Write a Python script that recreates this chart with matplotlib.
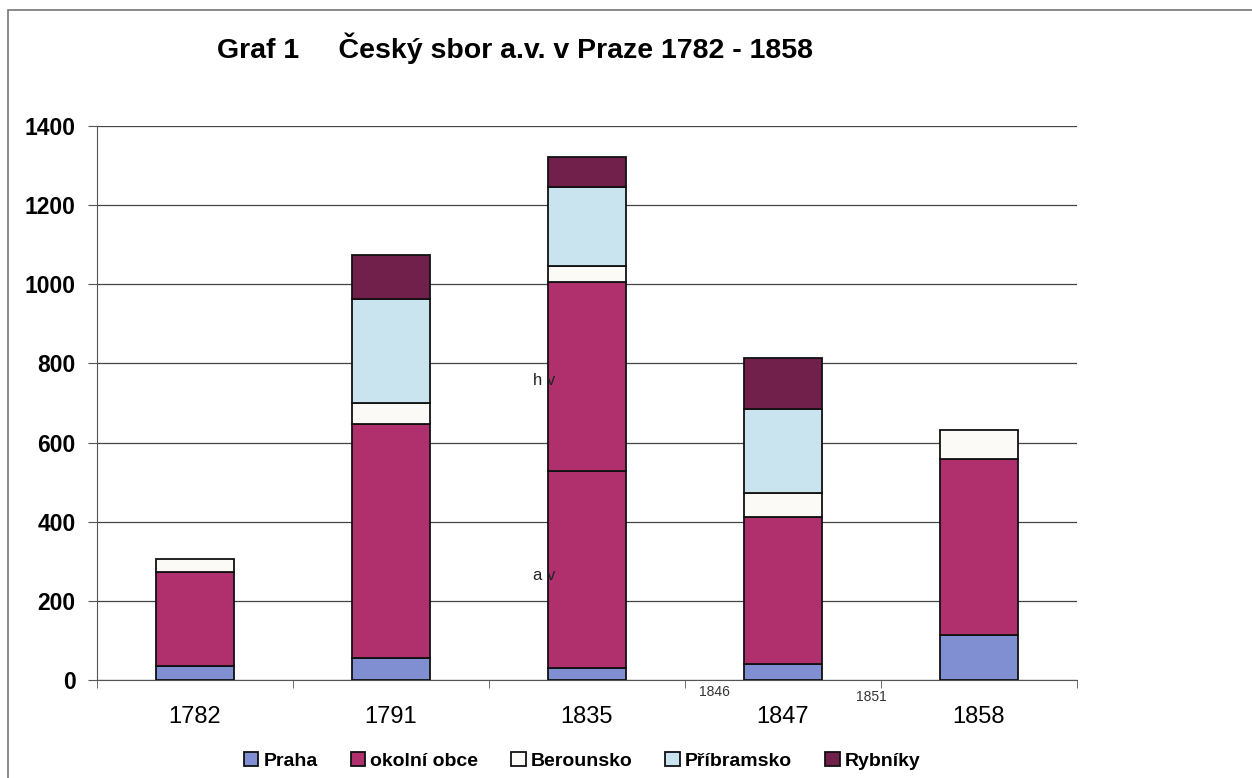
import numpy as np
import matplotlib
matplotlib.use('Agg')
import matplotlib.pyplot as plt
from matplotlib.patches import Rectangle

plt.rcParams['font.family'] = ['Liberation Sans', 'DejaVu Sans']

# data
years = ['1782', '1791', '1835', '1847', '1858']
praha = [36, 56, 31, 40, 114]
okolni = [237, 590, 496, 371, 444]      # for 1835 this is the a.v. part
okolni_hv = [0, 0, 479, 0, 0]           # 1835 h.v. part, same colour
berounsko = [33, 53, 40, 61, 73]
pribramsko = [0, 265, 199, 214, 0]
rybniky = [0, 111, 77, 128, 0]
yticks = [0, 200, 400, 600, 800, 1000, 1200, 1400]

colors = {'Praha': '#7f8fd2', 'okolní obce': '#b0306e', 'Berounsko': '#fbfaf6',
          'Příbramsko': '#c9e3ef', 'Rybníky': '#71204c'}

fig = plt.figure(figsize=(12.52, 7.78), dpi=100)
ax = fig.add_axes([97 / 1252, 98 / 778, 980 / 1252, 554 / 778])

x = np.arange(len(years))
w = 0.40
bottom = np.zeros(len(years))
series = [('Praha', praha), ('okolní obce', okolni), ('_hv', okolni_hv),
          ('Berounsko', berounsko), ('Příbramsko', pribramsko), ('Rybníky', rybniky)]
for name, vals in series:
    vals = np.array(vals)
    col = colors['okolní obce'] if name == '_hv' else colors[name]
    mask = vals > 0
    ax.bar(x[mask], vals[mask], w, bottom=bottom[mask], color=col,
           edgecolor='#111111', linewidth=1.3, label=name, zorder=3)
    bottom += vals

ax.set_xlim(-0.5, 4.5)
ax.set_ylim(0, 1400)
ax.set_yticks(yticks)
ax.set_yticklabels([str(v) for v in yticks], fontsize=16.5, fontweight='bold')
ax.yaxis.grid(True, color='#444444', linewidth=0.9, zorder=0)
ax.set_axisbelow(True)

ax.set_xticks(x)
ax.set_xticklabels(years, fontsize=17)
ax.tick_params(axis='x', length=0, pad=19)
ax.set_xticks(np.arange(-0.5, 5, 1), minor=True)
ax.tick_params(axis='x', which='minor', length=6, direction='out', color='#555555')
ax.tick_params(axis='y', length=6.5, color='#555555', pad=9)

for s in ['top', 'right']:
    ax.spines[s].set_visible(False)
ax.spines['left'].set_color('#555555')
ax.spines['bottom'].set_color('#555555')

# stray annotations on the original
ax.text(2 - 0.275, 757, 'h v', fontsize=12, ha='left', va='center', color='#222222', zorder=4)
ax.text(2 - 0.275, 263, 'a v', fontsize=12, ha='left', va='center', color='#222222', zorder=4)
ax.text(2.65, -30, '1846', fontsize=10, ha='center', va='center', color='#333333')
ax.text(3.45, -43, '1851', fontsize=10, ha='center', va='center', color='#333333')

fig.text(217 / 1252, 1 - 48 / 778, 'Graf 1     Český sbor a.v. v Praze 1782 - 1858',
         fontsize=20.5, fontweight='bold', ha='left', va='center')

handles, labels = ax.get_legend_handles_labels()
keep = [i for i, l in enumerate(labels) if not l.startswith('_')]
leg = fig.legend([handles[i] for i in keep], [labels[i] for i in keep],
                 loc='center', bbox_to_anchor=(582 / 1252, 1 - 761 / 778), ncol=5,
                 frameon=False, prop={'size': 14, 'weight': 'bold'},
                 handlelength=0.75, handleheight=0.75, handletextpad=0.25, columnspacing=1.7)

# outer frame of the scanned chart
fig.patches.append(Rectangle((8 / 1252, -0.1), 1.2, 1 - 10 / 778 + 0.1,
                             transform=fig.transFigure, fill=False,
                             edgecolor='#777777', linewidth=1.2))

fig.savefig('out.png', dpi=100, facecolor='white')
